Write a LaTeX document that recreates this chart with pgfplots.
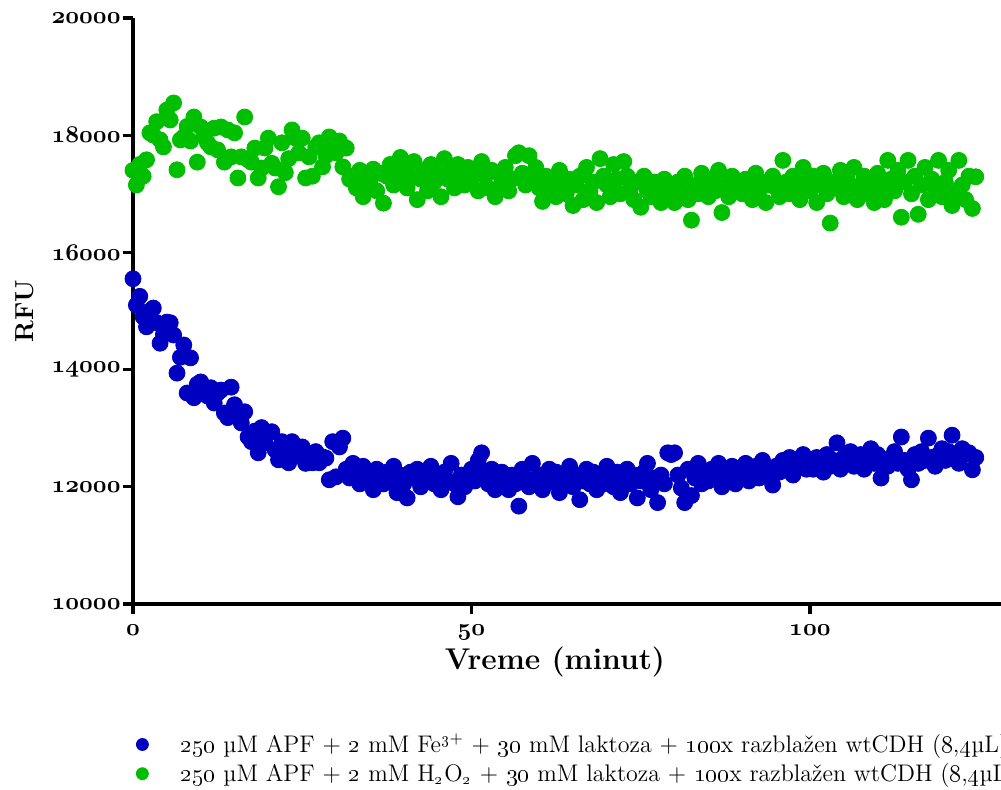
\documentclass[border=0pt]{standalone}
\usepackage{pgfplots}
\usepackage{pgfplotstable}
\pgfplotsset{compat=1.18}
\definecolor{gblue}{RGB}{0,0,192}
\definecolor{ggreen}{RGB}{0,190,0}
\newcommand{\osn}[1]{\oldstylenums{#1}}
\newcommand{\tl}[1]{{\fontsize{13}{15}\selectfont\boldmath$\mathnormal{#1}$}}

\pgfplotstableread[row sep=\\]{y\\
15550\\15100\\15250\\14900\\14730\\15000\\15050\\14800\\14450\\14600\\
14810\\14800\\14590\\13940\\14210\\14420\\13600\\14200\\13520\\13750\\
13790\\13700\\13550\\13690\\13430\\13600\\13650\\13260\\13180\\13700\\
13400\\13190\\13090\\13280\\12850\\12770\\12950\\12580\\13010\\12750\\
12920\\12940\\12630\\12460\\12770\\12580\\12410\\12770\\12550\\12680\\
12680\\12400\\12510\\12410\\12600\\12410\\12510\\12490\\12120\\12770\\
12170\\12680\\12830\\12300\\12150\\12400\\12250\\12050\\12350\\12100\\
12200\\11950\\12300\\12150\\12050\\12250\\12100\\12350\\11900\\12200\\
12050\\11810\\12250\\12150\\12300\\12000\\12200\\12100\\12350\\12050\\
12150\\11950\\12250\\12100\\12400\\12050\\11830\\12200\\12000\\12150\\
12300\\12100\\12450\\12580\\12200\\12050\\12300\\11950\\12150\\12250\\
12100\\11950\\12200\\12050\\11670\\12300\\12150\\12000\\12400\\12100\\
12200\\11950\\12050\\12300\\12100\\12250\\11900\\12150\\12050\\12350\\
12000\\12200\\11780\\12100\\12300\\12050\\12250\\11950\\12150\\12050\\
12350\\12150\\12000\\12250\\11900\\12100\\12300\\12050\\12200\\11810\\
12100\\12250\\12400\\11950\\12150\\11730\\12200\\12050\\12580\\12550\\
12580\\12200\\11980\\11730\\12300\\11850\\12150\\12400\\12050\\12250\\
12100\\12300\\12200\\12400\\12000\\12250\\12150\\12350\\12050\\12300\\
12200\\12400\\12100\\12250\\12350\\12150\\12450\\12200\\12300\\12030\\
12350\\12250\\12450\\12300\\12500\\12200\\12400\\12350\\12550\\12300\\
12450\\12300\\12500\\12400\\12250\\12550\\12350\\12450\\12750\\12300\\
12500\\12400\\12600\\12350\\12450\\12550\\12300\\12450\\12650\\12400\\
12550\\12150\\12450\\12350\\12500\\12600\\12400\\12850\\12450\\12300\\
12120\\12550\\12400\\12600\\12450\\12830\\12500\\12350\\12550\\12650\\
12450\\12600\\12880\\12500\\12400\\12650\\12550\\12580\\12290\\12500\\
}\blueser

\pgfplotstableread[row sep=\\]{y\\
17400\\17150\\17500\\17300\\17580\\18040\\18000\\18230\\17920\\17800\\
18430\\18260\\18550\\17410\\17920\\17970\\18150\\17900\\18310\\17540\\
18140\\17970\\17870\\17800\\18120\\17750\\18140\\17540\\18090\\17630\\
18040\\17270\\17630\\18310\\17580\\17540\\17780\\17270\\17440\\17780\\
17950\\17520\\17440\\17120\\17870\\17360\\17600\\18090\\17950\\17700\\
17950\\17270\\17630\\17300\\17800\\17870\\17460\\17650\\17970\\17870\\
17700\\17900\\17460\\17780\\17250\\17300\\17100\\17400\\16950\\17300\\
17200\\17420\\17050\\17350\\16840\\17300\\17500\\17150\\17280\\17620\\
17450\\17100\\17300\\17550\\16900\\17250\\17400\\17050\\17500\\17200\\
17350\\16950\\17600\\17250\\17400\\17100\\17500\\17300\\17150\\17450\\
17250\\17400\\17050\\17550\\17300\\17100\\17400\\16950\\17350\\17200\\
17450\\17050\\17250\\17650\\17700\\17350\\17150\\17650\\17300\\17450\\
17100\\16870\\17300\\17050\\17200\\16950\\17400\\17150\\17000\\17250\\
16800\\17150\\17300\\16900\\17450\\17050\\17200\\16850\\17600\\17300\\
17150\\16950\\17500\\17250\\17000\\17550\\17300\\17100\\16900\\17200\\
16770\\17300\\17050\\16950\\17200\\17100\\16850\\17250\\17000\\17150\\
16850\\17200\\17050\\17300\\16900\\16550\\17150\\17000\\17350\\17100\\
16950\\17250\\17050\\17400\\16680\\17150\\16950\\17300\\17100\\17200\\
17000\\17250\\17100\\16900\\17350\\17050\\17200\\16850\\17150\\17300\\
17100\\16950\\17570\\17200\\17000\\17300\\17100\\16900\\17450\\17200\\
17050\\17300\\16850\\17150\\17350\\17000\\16500\\17200\\17100\\17400\\
16950\\17250\\17100\\17450\\16900\\17150\\17300\\17000\\17200\\16850\\
17350\\17100\\16900\\17570\\17250\\17050\\17400\\16600\\17200\\17570\\
17000\\17300\\16650\\17150\\17450\\16900\\17250\\17100\\17570\\16950\\
17200\\17400\\16800\\17050\\17570\\17150\\16900\\17300\\16750\\17290\\
}\greenser

\begin{document}
\begin{tikzpicture}
\path[use as bounding box] (-66.5pt,-93pt) rectangle (434pt,302pt);
\begin{axis}[
  at={(0,0)}, anchor=south west,
  scale only axis, width=440pt, height=293pt,
  xmin=0, xmax=130, ymin=10000, ymax=20000,
  axis x line=bottom, axis y line=left,
  axis line style={line width=1.6pt, -},
  tick align=outside,
  every tick/.style={line width=1.6pt, black},
  major tick length=5pt,
  scaled x ticks=false, scaled y ticks=false,
  xtick={0,50,100}, xticklabels={\tl{0},\tl{50},\tl{100}},
  ytick={10000,12000,14000,16000,18000,20000},
  yticklabels={\tl{10000},\tl{12000},\tl{14000},\tl{16000},\tl{18000},\tl{20000}},
  yticklabel style={inner sep=1pt},
  xticklabel style={yshift=-2pt},
  clip=false,
  xlabel={Vreme (minut)},
  ylabel={RFU},
  every axis x label/.style={at={(rel axis cs:0.4795,0)}, yshift=-29pt, anchor=center, font=\fontsize{15}{17}\selectfont\bfseries},
  every axis y label/.style={at={(rel axis cs:0,0.5)}, xshift=-54pt, rotate=90, anchor=center, font=\fontsize{13}{15}\selectfont\bfseries},
  legend style={at={(rel axis cs:-0.0034,-0.214)}, anchor=north west, draw=none, fill=none,
    font=\fontsize{12}{14}\selectfont, inner sep=0pt, nodes={inner sep=2pt}},
  legend cell align=left,
  legend image code/.code={\path[draw=none,fill=none] (-6pt,-1pt) rectangle (17pt,1pt); \draw[#1, mark size=3pt] plot coordinates {(0pt,0pt)};},
]
\addplot[only marks, mark=*, mark size=4pt, color=gblue, mark options={fill=gblue, draw=gblue}]
  table[x expr=\coordindex*0.5, y=y] {\blueser};
\addlegendentry{\osn{250} µM APF + \osn{2} mM Fe\textsuperscript{\osn{3}+} + \osn{30} mM laktoza + \osn{100}x razblažen wtCDH (\osn{8},\osn{4}µL)}
\addplot[only marks, mark=*, mark size=4pt, color=ggreen, mark options={fill=ggreen, draw=ggreen}]
  table[x expr=\coordindex*0.5, y=y] {\greenser};
\addlegendentry{\osn{250} µM APF + \osn{2} mM H\textsubscript{\osn{2}}O\textsubscript{\osn{2}} + \osn{30} mM laktoza + \osn{100}x razblažen wtCDH (\osn{8},\osn{4}µL)}
\end{axis}
\end{tikzpicture}
\end{document}
